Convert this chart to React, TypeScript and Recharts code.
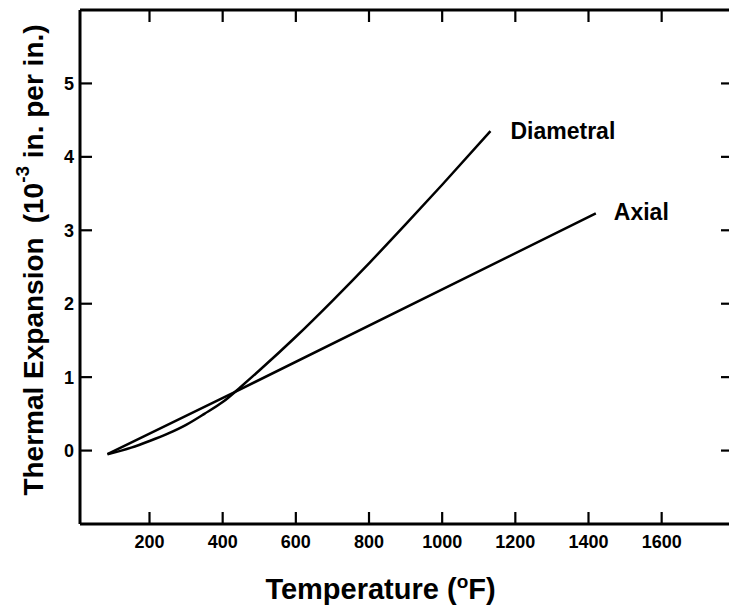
import React from 'react';
import { LineChart, Line, XAxis, YAxis } from 'recharts';

const xTicks = [200, 400, 600, 800, 1000, 1200, 1400, 1600];
const yTicks = [0, 1, 2, 3, 4, 5];

const diametralTemps = [85, 150, 200, 250, 300, 350, 400, 450, 500, 600, 700, 800, 900, 1000, 1132];
const diametralValues = [-0.05, 0.04, 0.13, 0.23, 0.35, 0.5, 0.66, 0.87, 1.09, 1.55, 2.04, 2.55, 3.08, 3.62, 4.35];

const axialTemps = [85, 430, 1420];
const axialValues = [-0.05, 0.79, 3.23];

const seriesNames = ['Diametral', 'Axial'];

const diametralData = diametralTemps.map((t, i) => ({ t, v: diametralValues[i] }));
const axialData = axialTemps.map((t, i) => ({ t, v: axialValues[i] }));

const FONT = '"Liberation Sans", Arial, Helvetica, sans-serif';
const CHART_W = 729;
const CHART_H = 604;
const MARGIN = { top: 0, right: 3, bottom: 28, left: 0 };
const TOP_AXIS_H = 2;
const BOTTOM_AXIS_H = 60;
const PLOT_H = CHART_H - MARGIN.top - MARGIN.bottom - TOP_AXIS_H - BOTTOM_AXIS_H;
const TICK_LEN = 12;
const tickLineStyle = { stroke: '#000', strokeWidth: 2.2 };
const axisLineStyle = { stroke: '#000', strokeWidth: 3 };

// Bottom axis tick: label below, plus the matching inward tick on the top frame edge.
const BottomTick = (props: any) => {
  const { payload } = props;
  const x = Number(props.x);
  const y = Number(props.y);
  const topY = y - PLOT_H;
  return (
    <g>
      <line x1={x} y1={topY} x2={x} y2={topY + TICK_LEN} stroke="#000" strokeWidth={2.2} />
      <text x={x} y={y + 24} textAnchor="middle" fontFamily={FONT} fontWeight="bold" fontSize={18} fill="#000">
        {payload.value}
      </text>
    </g>
  );
};

const LeftTick = (props: any) => {
  const { x, y, payload } = props;
  return (
    <text x={Number(x) - 6} y={y} dy="0.36em" textAnchor="end" fontFamily={FONT} fontWeight="bold" fontSize={18} fill="#000">
      {payload.value}
    </text>
  );
};

const NoLabel = () => <g />;

const makeEndLabel = (name: string, lastIndex: number, dx: number, dy: number) => (props: any) => {
  if (props.index !== lastIndex) return <g />;
  const px = props.x ?? props.viewBox?.x;
  const py = props.y ?? props.viewBox?.y;
  return (
    <text x={px + dx} y={py + dy} fontFamily={FONT} fontWeight="bold" fontSize={23} fill="#000">
      {name}
    </text>
  );
};

const XTitle = (props: any) => {
  const vb = props.viewBox;
  return (
    <text x={vb.x + vb.width / 2 - 26} y={vb.y + 75} textAnchor="middle" fontFamily={FONT} fontWeight="bold" fontSize={29} fill="#000">
      Temperature (<tspan dy={-11} fontSize={19}>o</tspan>
      <tspan dy={11}>F)</tspan>
    </text>
  );
};

const YTitle = (props: any) => {
  const vb = props.viewBox;
  const cx = 25;
  const cy = vb.y + vb.height / 2 - 7;
  return (
    <text
      x={cx}
      y={cy}
      transform={`rotate(-90 ${cx} ${cy})`}
      textAnchor="middle"
      dominantBaseline="central"
      fontFamily={FONT}
      fontWeight="bold"
      fontSize={28}
      fill="#000"
    >
      Thermal Expansion<tspan dx={14}>(10</tspan>
      <tspan dy={-11} fontSize={19}>-3</tspan>
      <tspan dy={11}> in. per in.)</tspan>
    </text>
  );
};

export default function App() {
  return (
    <div style={{ width: CHART_W, height: CHART_H, background: '#fff' }}>
      <LineChart width={CHART_W} height={CHART_H} margin={MARGIN}>
        <XAxis
          xAxisId="bottom"
          dataKey="t"
          type="number"
          domain={[10, 1795]}
          ticks={xTicks}
          interval={0}
          orientation="bottom"
          height={BOTTOM_AXIS_H}
          axisLine={axisLineStyle}
          tickLine={tickLineStyle}
          tickSize={-TICK_LEN}
          tickMargin={TICK_LEN}
          tick={<BottomTick />}
          allowDataOverflow
          label={<XTitle />}
        />
        <XAxis
          xAxisId="top"
          type="number"
          domain={[10, 1795]}
          ticks={xTicks}
          interval={0}
          orientation="top"
          height={TOP_AXIS_H}
          axisLine={axisLineStyle}
          tickLine={false}
          tick={<NoLabel />}
          allowDataOverflow
        />
        <YAxis
          yAxisId="left"
          type="number"
          domain={[-1, 6]}
          ticks={yTicks}
          interval={0}
          orientation="left"
          width={72}
          axisLine={axisLineStyle}
          tickLine={tickLineStyle}
          tickSize={-TICK_LEN}
          tickMargin={TICK_LEN}
          tick={<LeftTick />}
          allowDataOverflow
          label={<YTitle />}
        />
        <YAxis
          yAxisId="right"
          type="number"
          domain={[-1, 6]}
          ticks={yTicks}
          interval={0}
          orientation="right"
          width={1}
          axisLine={axisLineStyle}
          tickLine={tickLineStyle}
          tickSize={-TICK_LEN}
          tickMargin={0}
          tick={<NoLabel />}
          allowDataOverflow
        />
        <Line
          xAxisId="bottom"
          yAxisId="left"
          data={diametralData}
          dataKey="v"
          type="monotone"
          stroke="#000"
          strokeWidth={2.5}
          dot={false}
          isAnimationActive={false}
          label={makeEndLabel(seriesNames[0], diametralData.length - 1, 20, 8)}
        />
        <Line
          xAxisId="bottom"
          yAxisId="left"
          data={axialData}
          dataKey="v"
          type="linear"
          stroke="#000"
          strokeWidth={2.5}
          dot={false}
          isAnimationActive={false}
          label={makeEndLabel(seriesNames[1], axialData.length - 1, 18, 7)}
        />
      </LineChart>
    </div>
  );
}
